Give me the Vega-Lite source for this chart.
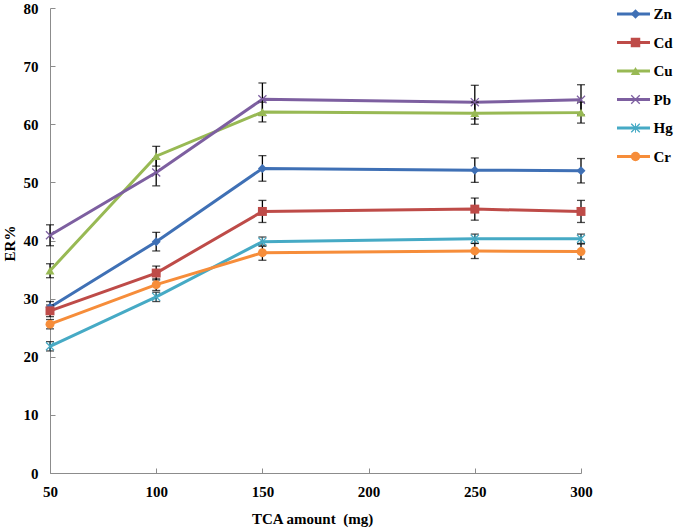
{
  "$schema": "https://vega.github.io/schema/vega-lite/v6.json",
  "width": 531,
  "height": 465,
  "autosize": {"type": "none"},
  "padding": {"left": 50, "top": 8, "right": 104, "bottom": 57},
  "background": "white",
  "config": {
    "view": {"stroke": null},
    "font": "Liberation Serif",
    "axis": {"grid": false, "domainColor": "#8c8c8c", "tickColor": "#8c8c8c", "labelFont": "Liberation Serif", "labelFontWeight": "bold", "labelFontSize": 15, "labelColor": "black", "titleFont": "Liberation Serif", "titleFontWeight": "bold", "titleFontSize": 15, "titleColor": "black"}
  },
  "data": {"values": [
    {"x": 50, "m": "Zn", "s": "Zn", "y": 28.5, "lo": 27.5, "hi": 29.5},
    {"x": 100, "m": "Zn", "s": "Zn", "y": 39.8, "lo": 38.2, "hi": 41.4},
    {"x": 150, "m": "Zn", "s": "Zn", "y": 52.4, "lo": 50.2, "hi": 54.6},
    {"x": 250, "m": "Zn", "s": "Zn", "y": 52.1, "lo": 50.0, "hi": 54.2},
    {"x": 300, "m": "Zn", "s": "Zn", "y": 52.0, "lo": 49.9, "hi": 54.1},
    {"x": 50, "m": "Cd", "s": "Cd", "y": 27.9, "lo": 26.9, "hi": 28.9},
    {"x": 100, "m": "Cd", "s": "Cd", "y": 34.4, "lo": 33.2, "hi": 35.6},
    {"x": 150, "m": "Cd", "s": "Cd", "y": 45.0, "lo": 43.1, "hi": 46.9},
    {"x": 250, "m": "Cd", "s": "Cd", "y": 45.4, "lo": 43.5, "hi": 47.3},
    {"x": 300, "m": "Cd", "s": "Cd", "y": 45.0, "lo": 43.1, "hi": 46.9},
    {"x": 50, "m": "Cu", "s": "Cu", "y": 34.8, "lo": 33.6, "hi": 36.0},
    {"x": 100, "m": "Cu", "s": "Cu", "y": 54.5, "lo": 52.8, "hi": 56.2},
    {"x": 150, "m": "Cu", "s": "Cu", "y": 62.1, "lo": 60.4, "hi": 63.8},
    {"x": 250, "m": "Cu", "s": "Cu", "y": 61.9, "lo": 60.0, "hi": 63.8},
    {"x": 300, "m": "Cu", "s": "Cu", "y": 62.0, "lo": 60.2, "hi": 63.8},
    {"x": 50, "m": "Pb", "s": "Pb", "y": 40.9, "lo": 39.1, "hi": 42.7},
    {"x": 100, "m": "Pb", "s": "Pb", "y": 51.7, "lo": 49.4, "hi": 54.0},
    {"x": 150, "m": "Pb", "s": "Pb", "y": 64.3, "lo": 61.5, "hi": 67.1},
    {"x": 250, "m": "Pb", "s": "Pb", "y": 63.8, "lo": 60.9, "hi": 66.7},
    {"x": 300, "m": "Pb", "s": "Pb", "y": 64.2, "lo": 61.6, "hi": 66.8},
    {"x": 50, "m": "Hg", "s": "Hg", "y": 21.8, "lo": 21.0, "hi": 22.6},
    {"x": 100, "m": "Hg", "s": "Hg", "y": 30.3, "lo": 29.5, "hi": 31.1},
    {"x": 150, "m": "Hg", "s": "Hg", "y": 39.8, "lo": 39.0, "hi": 40.6},
    {"x": 250, "m": "Hg", "s": "Hg", "y": 40.3, "lo": 39.5, "hi": 41.1},
    {"x": 300, "m": "Hg", "s": "Hg", "y": 40.3, "lo": 39.5, "hi": 41.1},
    {"x": 50, "m": "Cr", "s": "Cr", "y": 25.6, "lo": 24.8, "hi": 26.4},
    {"x": 100, "m": "Cr", "s": "Cr", "y": 32.4, "lo": 31.4, "hi": 33.4},
    {"x": 150, "m": "Cr", "s": "Cr", "y": 37.9, "lo": 36.6, "hi": 39.2},
    {"x": 250, "m": "Cr", "s": "Cr", "y": 38.2, "lo": 36.9, "hi": 39.5},
    {"x": 300, "m": "Cr", "s": "Cr", "y": 38.1, "lo": 36.8, "hi": 39.4}
  ]},
  "encoding": {
    "x": {"field": "x", "type": "quantitative", "scale": {"domain": [50, 300], "nice": false, "zero": false},
      "axis": {"values": [50, 100, 150, 200, 250, 300], "title": "TCA amount \u00a0(mg)", "tickSize": -5, "labelPadding": 16, "titleX": 262, "titleY": 45, "titleBaseline": "middle", "labelFlush": false}},
    "y": {"field": "y", "type": "quantitative", "scale": {"domain": [0, 80], "nice": false},
      "axis": {"values": [0, 10, 20, 30, 40, 50, 60, 70, 80], "title": "ER%", "tickSize": -5, "labelPadding": 17, "titleX": -41, "titleY": 235, "titleBaseline": "middle", "titleAlign": "center"}}
  },
  "layer": [
    {
      "mark": {"type": "line", "strokeWidth": 3},
      "encoding": {
        "stroke": {"field": "s", "type": "nominal", "sort": ["Zn", "Cd", "Cu", "Pb", "Hg", "Cr"],
          "scale": {"range": ["#3F70B5", "#BE4B48", "#98B954", "#7D5FA0", "#46AAC5", "#F68D3A"]},
          "legend": {"title": null, "orient": "none", "legendX": 565.5, "legendY": -4, "symbolType": "stroke", "symbolSize": 1089, "symbolStrokeWidth": 3, "clipHeight": 20, "rowPadding": 8.5, "padding": 0, "labelFont": "Liberation Serif", "labelFontWeight": "bold", "labelFontSize": 15, "labelColor": "black", "labelOffset": 2}}
      }
    },
    {
      "mark": {"type": "errorbar", "color": "black", "ticks": {"color": "black", "size": 8, "thickness": 1.3}, "rule": {"color": "black", "strokeWidth": 1.3}},
      "encoding": {
        "y": {"field": "lo", "type": "quantitative"},
        "y2": {"field": "hi"}
      }
    },
    {
      "mark": {"type": "point", "filled": true, "opacity": 1, "size": 80, "strokeWidth": 0},
      "encoding": {
        "fill": {"field": "m", "type": "nominal",
          "scale": {"domain": ["Zn", "Cd", "Cu", "Pb", "Hg", "Cr"], "range": ["#3F70B5", "#BE4B48", "#98B954", "#7D5FA0", "#46AAC5", "#F68D3A"]},
          "legend": {"title": null, "orient": "none", "legendX": 578, "legendY": -4, "symbolSize": 90, "clipHeight": 20, "rowPadding": 8.5, "padding": 0, "labelExpr": "''", "labelFontSize": 15, "symbolStrokeWidth": 0}},
        "shape": {"field": "m", "type": "nominal",
          "scale": {"domain": ["Zn", "Cd", "Cu", "Pb", "Hg", "Cr"], "range": ["diamond", "square", "triangle-up", "M-1,-0.8L-0.8,-1L1,0.8L0.8,1ZM0.8,-1L1,-0.8L-0.8,1L-1,0.8Z", "M-1,-0.8L-0.8,-1L1,0.8L0.8,1ZM0.8,-1L1,-0.8L-0.8,1L-1,0.8ZM-0.1,-1L0.1,-1L0.1,1L-0.1,1Z", "circle"]},
          "legend": {"title": null, "orient": "none", "legendX": 578, "legendY": -4, "symbolSize": 90, "clipHeight": 20, "rowPadding": 8.5, "padding": 0, "labelExpr": "''", "labelFontSize": 15, "symbolStrokeWidth": 0}}
      }
    }
  ]
}
